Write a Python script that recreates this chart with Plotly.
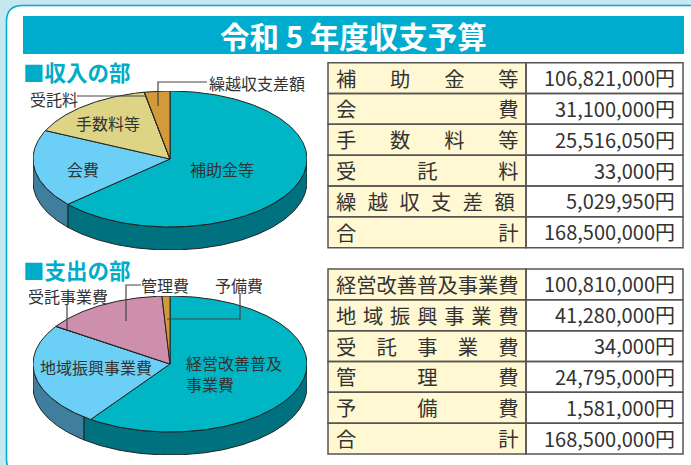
import numpy as np
import plotly.graph_objects as go

W, H = 691, 465
FONT = "Noto Sans CJK JP"
INK = "#333333"

# ---- data ----
title = "令和 5 年度収支予算"
income_heading = "■収入の部"
income_labels = ["補助金等", "会費", "手数料等", "受託料", "繰越収支差額"]
income_values = [106821000, 31100000, 25516050, 33000, 5029950]
income_total = 168500000

expense_heading = "■支出の部"
expense_labels = ["経営改善普及事業費", "地域振興事業費", "受託事業費", "管理費", "予備費"]
expense_values = [100810000, 41280000, 34000, 24795000, 1581000]
expense_total = 168500000

total_label = "合計"

# ---- styles ----
income_top = ["#00B6C4", "#6CCFF6", "#DDD486", "#E8D98A", "#D29A3A"]
income_side = ["#00717F", "#3F7F9D", "#8A8450", "#8A8450", "#80601F"]
expense_top = ["#00B6C4", "#6CCFF6", "#CE8FAC", "#CE8FAC", "#D29A3A"]
expense_side = ["#00717F", "#3F7F9D", "#80586B", "#80586B", "#80601F"]

fig = go.Figure()


def arc(t0, t1):
    n = max(2, int(abs(t1 - t0) * 90) + 2)
    return np.linspace(t0, t1, n)


def add_pie(values, top_cols, side_cols, xa, ya, depth, seam_shift=0.0):
    vals = np.array(values, dtype=float)
    edges = np.concatenate([[0], np.cumsum(vals) / vals.sum()]) * 2 * np.pi
    side_edges = edges.copy()
    side_edges[1] += np.radians(seam_shift)  # the drawn wall seam sits a little off the slice corner
    # side walls (visible for the front half only)
    for i in range(len(vals)):
        a, b = max(side_edges[i], np.pi / 2), min(side_edges[i + 1], 3 * np.pi / 2)
        if b <= a:
            continue
        t = arc(a, b)
        x = np.sin(t)
        y = np.cos(t)
        px = np.concatenate([x, x[::-1], x[:1]])
        py = np.concatenate([y, y[::-1] - depth, y[:1]])
        fig.add_trace(go.Scatter(x=px, y=py, xaxis=xa, yaxis=ya, mode="lines", fill="toself",
                                 fillcolor=side_cols[i], line=dict(color="#222222", width=1),
                                 hoverinfo="skip", showlegend=False))
    # top faces
    for i in range(len(vals)):
        t = arc(edges[i], edges[i + 1])
        px = np.concatenate([[0], np.sin(t), [0]])
        py = np.concatenate([[0], np.cos(t), [0]])
        fig.add_trace(go.Scatter(x=px, y=py, xaxis=xa, yaxis=ya, mode="lines", fill="toself",
                                 fillcolor=top_cols[i], line=dict(color="#222222", width=1),
                                 hoverinfo="skip", showlegend=False))


PIE_L, PIE_R, RY, DEPTH = 33, 307, 68, 23
DEPTH_U = DEPTH / RY


def pie_axes(n, top_px):
    bottom_px = top_px + 2 * RY + DEPTH
    fig.update_layout({
        f"xaxis{n}": dict(domain=[PIE_L / W, PIE_R / W], range=[-1, 1], visible=False, fixedrange=True),
        f"yaxis{n}": dict(domain=[1 - bottom_px / H, 1 - top_px / H], range=[-1 - DEPTH_U, 1],
                          visible=False, fixedrange=True, anchor=f"x{n}"),
    })


pie_axes(2, 91)
pie_axes(3, 296)
add_pie(income_values, income_top, income_side, "x2", "y2", DEPTH_U)
add_pie(expense_values, expense_top, expense_side, "x3", "y3", DEPTH_U, seam_shift=3.6)

# pixel frame for the page furniture
fig.update_layout(
    xaxis=dict(domain=[0, 1], range=[0, W], visible=False, fixedrange=True),
    yaxis=dict(domain=[0, 1], range=[H, 0], visible=False, fixedrange=True),
)
shapes, notes = [], []


def rect(x0, y0, x1, y1, fill, line=None, lw=0):
    shapes.append(dict(type="rect", xref="x", yref="y", x0=x0, y0=y0, x1=x1, y1=y1, fillcolor=fill,
                       line=dict(color=line or fill, width=lw), layer="below"))


def text(x, y, s, size=16, color=INK, anchor="center", bold=False):
    notes.append(dict(xref="x", yref="y", x=x, y=y, text=f"<b>{s}</b>" if bold else s, showarrow=False,
                      xanchor=anchor, yanchor="middle", align="left" if anchor == "left" else anchor,
                      font=dict(family=FONT, size=size, color=color)))


def polyline(pts):
    d = "M" + " L".join(f"{x},{y}" for x, y in pts)
    shapes.append(dict(type="path", xref="x", yref="y", path=d, line=dict(color="#444444", width=1.2), layer="above"))


# panel
L, T, R, B, C = 6.5, 5.5, 705, 475, 16
shapes.append(dict(type="path", xref="x", yref="y", layer="below", fillcolor="#FFFFFF",
                   line=dict(color="#00ADCF", width=1.6),
                   path=f"M{L+C},{T} L{R-C},{T} Q{R},{T} {R},{T+C} L{R},{B-C} Q{R},{B} {R-C},{B} "
                        f"L{L+C},{B} Q{L},{B} {L},{B-C} L{L},{T+C} Q{L},{T} {L+C},{T} Z"))
rect(23, 16, 684, 54, "#00ACCD")
text(353, 34.5, title, size=29.5, color="#FFFFFF", bold=True)
text(20.5, 71, income_heading, size=21.5, color="#00ACC8", anchor="left", bold=True)
text(20.5, 269, expense_heading, size=21.5, color="#00ACC8", anchor="left", bold=True)


def spaced(label):
    """Spread a label's characters over 9 em with Unicode spaces."""
    gaps = {2: "\u3000" * 7, 3: "\u3000" * 3, 4: "\u3000\u2002\u2006", 5: "\u3000",
            6: "\u2002\u200a", 7: "\u2004", 9: ""}
    return gaps[len(label)].join(label)


TX0, TXM, TX1, ROW = 328, 526, 683, 30.83


def add_table(top, labels, values, total):
    rows = list(zip(labels + [total_label], values + [total]))
    rect(TX0, top, TXM, top + ROW * len(rows), "#FFF8D2")
    rect(TXM, top, TX1, top + ROW * len(rows), "#FFFFFF")
    for i, (lab, val) in enumerate(rows):
        y0 = top + ROW * i
        shapes.append(dict(type="rect", xref="x", yref="y", x0=TX0, x1=TXM, y0=y0, y1=y0 + ROW,
                           line=dict(color="#555555", width=1.5), layer="below"))
        shapes.append(dict(type="rect", xref="x", yref="y", x0=TXM, x1=TX1, y0=y0, y1=y0 + ROW,
                           line=dict(color="#555555", width=1.5), layer="below"))
        text(334, y0 + ROW / 2 - 0.5, spaced(lab), size=20.3, anchor="left")
        text(676.5, y0 + ROW / 2 - 0.5, f"{val:,}円", size=20, anchor="right")


add_table(62.7, income_labels, income_values, income_total)
add_table(269, expense_labels, expense_values, expense_total)

# pie labels
text(221.5, 169, income_labels[0])
text(83, 169, income_labels[1])
text(107.5, 123, income_labels[2])
text(54, 98.5, income_labels[3])
text(256.5, 83, income_labels[4])
polyline([(77, 96), (146, 96)])
polyline([(158, 106), (158, 82), (207, 82)])

text(184, 373, expense_labels[0][:6] + "<br>" + expense_labels[0][6:], anchor="left")
text(96, 367, expense_labels[1])
text(68, 296, expense_labels[2])
text(165, 285, expense_labels[3])
text(239, 285, expense_labels[4])
polyline([(67, 304), (67, 330)])
polyline([(126, 321), (126, 285), (141, 285)])
polyline([(240, 293), (240, 319), (167, 319)])

fig.update_layout(width=W, height=H, autosize=False, margin=dict(l=0, r=0, t=0, b=0),
                  paper_bgcolor="#C6E8F0", plot_bgcolor="rgba(0,0,0,0)", showlegend=False,
                  shapes=shapes, annotations=notes)
fig.write_html("out.html", config=dict(displayModeBar=False),
               post_script="document.body.style.margin='0';document.body.style.overflow='hidden';")
